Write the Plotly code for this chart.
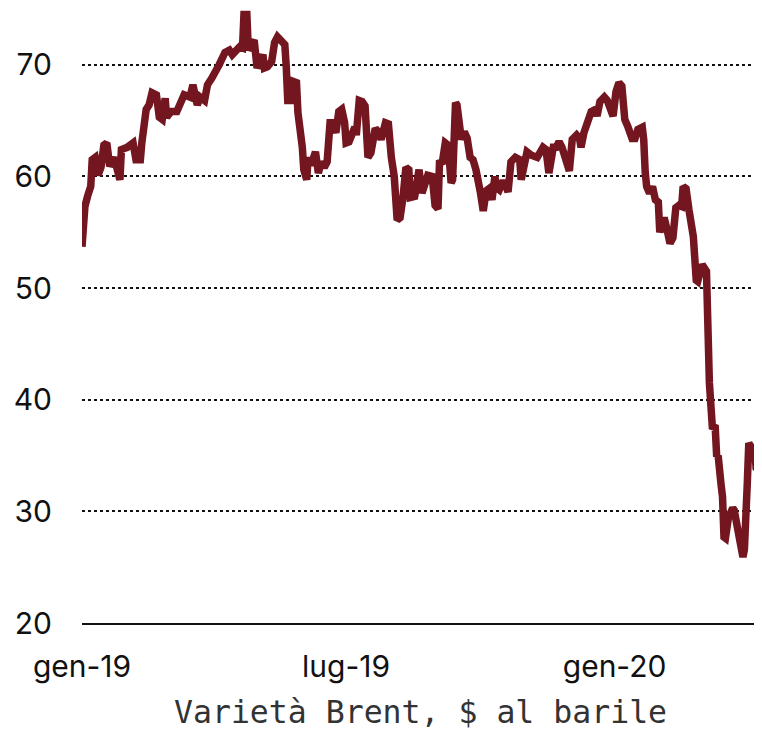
import plotly.graph_objects as go

dates = [
    "2019-01-01", "2019-01-02", "2019-01-03", "2019-01-05", "2019-01-07", "2019-01-08", "2019-01-10",
    "2019-01-12", "2019-01-14", "2019-01-16", "2019-01-18", "2019-01-20", "2019-01-23", "2019-01-27",
    "2019-01-28", "2019-02-01", "2019-02-05", "2019-02-07", "2019-02-10", "2019-02-11", "2019-02-12",
    "2019-02-14", "2019-02-16", "2019-02-18", "2019-02-21", "2019-02-23", "2019-02-25", "2019-02-27",
    "2019-02-28", "2019-03-03", "2019-03-07", "2019-03-11", "2019-03-12", "2019-03-16", "2019-03-18",
    "2019-03-21", "2019-03-23", "2019-03-26", "2019-03-28", "2019-03-31", "2019-04-02", "2019-04-05",
    "2019-04-09", "2019-04-12", "2019-04-14", "2019-04-17", "2019-04-19", "2019-04-21", "2019-04-22",
    "2019-04-24", "2019-04-25", "2019-04-27", "2019-04-29", "2019-05-01", "2019-05-03", "2019-05-05",
    "2019-05-06", "2019-05-08", "2019-05-11", "2019-05-13", "2019-05-15", "2019-05-18", "2019-05-20",
    "2019-05-21", "2019-05-22", "2019-05-25", "2019-05-26", "2019-05-28", "2019-05-29", "2019-06-01",
    "2019-06-02", "2019-06-04", "2019-06-05", "2019-06-07", "2019-06-10", "2019-06-12", "2019-06-14",
    "2019-06-16", "2019-06-18", "2019-06-20", "2019-06-22", "2019-06-24", "2019-06-26", "2019-06-28",
    "2019-06-30", "2019-07-01", "2019-07-03", "2019-07-07", "2019-07-08", "2019-07-10", "2019-07-12",
    "2019-07-14", "2019-07-16", "2019-07-18", "2019-07-19", "2019-07-21", "2019-07-23", "2019-07-25",
    "2019-07-28", "2019-07-30", "2019-08-01", "2019-08-03", "2019-08-05", "2019-08-07", "2019-08-09",
    "2019-08-11", "2019-08-13", "2019-08-14", "2019-08-17", "2019-08-20", "2019-08-22", "2019-08-26",
    "2019-08-29", "2019-08-31", "2019-09-02", "2019-09-03", "2019-09-05", "2019-09-07", "2019-09-09",
    "2019-09-11", "2019-09-12", "2019-09-14", "2019-09-15", "2019-09-18", "2019-09-20", "2019-09-22",
    "2019-09-24", "2019-09-26", "2019-09-28", "2019-10-01", "2019-10-02", "2019-10-03", "2019-10-05",
    "2019-10-07", "2019-10-09", "2019-10-11", "2019-10-12", "2019-10-14", "2019-10-16", "2019-10-18",
    "2019-10-20", "2019-10-22", "2019-10-25", "2019-10-28", "2019-10-29", "2019-10-31", "2019-11-02",
    "2019-11-05", "2019-11-09", "2019-11-13", "2019-11-15", "2019-11-17", "2019-11-20", "2019-11-22",
    "2019-11-24", "2019-11-26", "2019-11-29", "2019-12-01", "2019-12-03", "2019-12-06", "2019-12-08",
    "2019-12-09", "2019-12-11", "2019-12-14", "2019-12-16", "2019-12-19", "2019-12-20", "2019-12-22",
    "2019-12-25", "2019-12-27", "2019-12-30", "2019-12-31", "2020-01-02", "2020-01-04", "2020-01-06",
    "2020-01-07", "2020-01-08", "2020-01-10", "2020-01-13", "2020-01-15", "2020-01-17", "2020-01-20",
    "2020-01-21", "2020-01-22", "2020-01-23", "2020-01-25", "2020-01-27", "2020-01-29", "2020-01-31",
    "2020-02-01", "2020-02-03", "2020-02-04", "2020-02-06", "2020-02-08", "2020-02-10", "2020-02-12",
    "2020-02-14", "2020-02-16", "2020-02-17", "2020-02-19", "2020-02-21", "2020-02-23", "2020-02-24",
    "2020-02-26", "2020-02-27", "2020-03-01", "2020-03-03", "2020-03-04", "2020-03-06", "2020-03-08",
    "2020-03-10", "2020-03-11", "2020-03-12", "2020-03-14", "2020-03-15", "2020-03-16", "2020-03-17",
    "2020-03-19", "2020-03-22", "2020-03-23", "2020-03-25", "2020-03-27", "2020-03-29", "2020-03-30",
    "2020-04-01", "2020-04-02", "2020-04-04", "2020-04-06", "2020-04-07", "2020-04-09",
]

brent = [
    53.7, 55.2, 57.3, 58.3, 59.1, 61.5, 61.7,
    60.1, 60.8, 62.8, 63.0, 60.9, 61.7, 59.7,
    62.4, 62.6, 63.0, 61.5, 61.5, 63.0, 64.2,
    66.0, 66.4, 67.5, 67.3, 65.3, 65.1, 67.0,
    65.3, 65.8, 65.8, 66.8, 67.3, 67.1, 68.2,
    66.4, 67.1, 66.8, 68.2, 68.8, 69.2, 70.0,
    71.1, 71.3, 70.9, 71.3, 71.6, 71.5, 74.5,
    74.5, 71.3, 71.8, 72.2, 69.7, 70.3, 70.9,
    69.7, 69.8, 70.3, 72.0, 72.5, 72.0, 71.8,
    69.8, 66.8, 66.8, 68.5, 68.4, 65.7, 62.6,
    60.6, 59.7, 61.7, 61.0, 62.2, 60.3, 61.3,
    60.8, 61.3, 64.8, 64.8, 63.9, 65.8, 66.0,
    64.8, 63.0, 63.1, 64.4, 63.7, 66.8, 66.7,
    66.3, 61.7, 62.1, 63.0, 64.3, 64.0, 63.3,
    64.8, 64.7, 61.7, 60.0, 56.1, 56.3, 58.1,
    60.8, 60.6, 58.1, 58.2, 60.6, 58.5, 60.1,
    60.0, 57.4, 57.1, 61.2, 61.3, 63.0, 62.8,
    59.4, 59.7, 66.6, 66.4, 63.3, 64.0, 63.4,
    61.7, 61.5, 60.6, 58.6, 56.9, 56.9, 58.7,
    58.9, 57.9, 60.0, 59.0, 58.8, 59.4, 59.4,
    58.6, 61.3, 61.7, 61.5, 59.7, 61.5, 62.2,
    61.9, 61.7, 62.6, 62.4, 60.3, 62.6, 62.6,
    63.1, 62.6, 61.5, 60.5, 63.3, 63.7, 63.4,
    62.6, 63.9, 64.8, 65.8, 66.0, 65.4, 66.7,
    67.1, 66.8, 65.5, 65.4, 67.6, 68.4, 68.1,
    66.1, 65.1, 64.5, 63.4, 63.4, 64.2, 64.4,
    63.3, 60.4, 59.1, 58.5, 59.1, 57.9, 57.7,
    55.0, 56.0, 56.3, 55.2, 54.0, 54.5, 57.2,
    57.4, 57.3, 59.1, 58.9, 57.0, 55.2, 54.6,
    50.7, 50.6, 52.1, 51.8, 51.5, 41.5, 37.6,
    37.5, 34.9, 35.0, 32.4, 31.3, 27.7, 27.6,
    29.4, 30.3, 30.1, 28.1, 27.3, 25.9, 26.6,
    32.6, 36.1, 35.7, 35.7, 33.9, 33.7,
]

x_tick_dates = ["2019-01-01", "2019-07-01", "2020-01-01"]
x_tick_labels = ["gen-19", "lug-19", "gen-20"]
y_ticks = [20, 30, 40, 50, 60, 70]
caption = "Varietà Brent, $ al barile"

fig = go.Figure()
fig.add_trace(go.Scatter(
    x=dates, y=brent, mode="lines",
    line=dict(color="#73161f", width=7.5),
    hoverinfo="skip", showlegend=False,
))

# the page body has an 8px margin, so the figure is 8px smaller than the window
fig.update_layout(
    width=754, height=724,
    margin=dict(l=74, r=3, t=0, b=109, autoexpand=False),
    paper_bgcolor="white", plot_bgcolor="white",
    font=dict(family="Inter, Liberation Sans, sans-serif", color="#111111"),
)

fig.update_xaxes(
    type="date", automargin=False,
    range=["2019-01-01", "2020-04-09"],
    tickmode="array", tickvals=x_tick_dates, ticktext=x_tick_labels,
    tickfont=dict(size=30, color="#111111"),
    showgrid=False, zeroline=False,
    showline=True, linecolor="#111111", linewidth=2,
    ticks="", ticklabelstandoff=16,
)

fig.update_yaxes(
    automargin=False,
    range=[20, 75.08],
    tickmode="array", tickvals=y_ticks,
    tickfont=dict(size=30, color="#111111"),
    showgrid=True, gridcolor="#111111", gridwidth=2, griddash="dot",
    zeroline=False, showline=False,
    ticks="", ticklabelstandoff=29,
)

fig.add_annotation(
    text=caption, xref="paper", yref="paper", x=0.5, y=0,
    xanchor="center", yanchor="middle", yshift=-89, showarrow=False,
    font=dict(family="DejaVu Sans Mono, monospace", size=31.5, color="#333333"),
)

fig.write_html("out.html")
